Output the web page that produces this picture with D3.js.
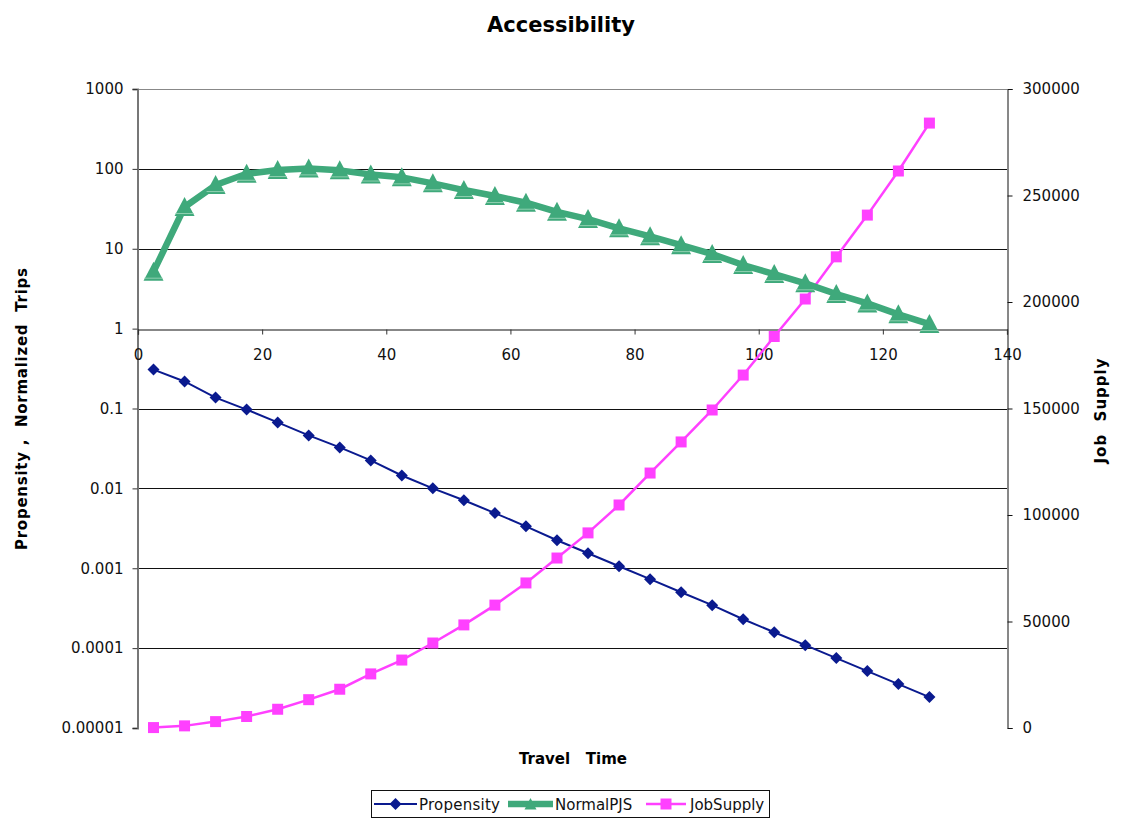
<!DOCTYPE html>
<html>
<head>
<meta charset="utf-8">
<script src="https://cdn.jsdelivr.net/npm/d3@7"></script>
<style>
  body { margin: 0; background: #fff; }
  svg { display: block; }
  text { font-family: "DejaVu Sans", sans-serif; }
</style>
</head>
<body>
<svg id="chart" width="1121" height="826"></svg>
<script>
// ---- Data ----
const travelTime = [2.5, 7.5, 12.5, 17.5, 22.5, 27.5, 32.5, 37.5, 42.5, 47.5, 52.5, 57.5, 62.5,
  67.5, 72.5, 77.5, 82.5, 87.5, 92.5, 97.5, 102.5, 107.5, 112.5, 117.5, 122.5, 127.5];
const propensity = [0.307, 0.218, 0.137, 0.097, 0.067, 0.046, 0.0326, 0.0224, 0.0145, 0.0100,
  0.0071, 0.0049, 0.00335, 0.00224, 0.00154, 0.00106, 0.00073, 0.00050, 0.000345, 0.00023,
  0.000158, 0.000109, 0.000075, 0.0000516, 0.0000355, 0.0000244];
const normalPJS = [5.16, 33.3, 62.7, 86.8, 96.6, 101.4, 95.8, 84.9, 78.3, 65.9, 54.3, 45.7, 37.7,
  29.0, 23.5, 18.0, 14.3, 11.1, 8.58, 6.25, 4.82, 3.69, 2.71, 2.07, 1.51, 1.14];
const jobSupply = [200, 1000, 3000, 5400, 8800, 13300, 18200, 25400, 31900, 39900, 48400, 57700,
  68100, 79800, 91600, 104700, 119700, 134300, 149300, 165700, 183800, 201400, 221200, 240800,
  261500, 284000];
const xTicks = [0, 20, 40, 60, 80, 100, 120, 140];
const yLeftTicks = [1000, 100, 10, 1, 0.1, 0.01, 0.001, 0.0001, 0.00001];
const yLeftLabels = ["1000", "100", "10", "1", "0.1", "0.01", "0.001", "0.0001", "0.00001"];
const yRightTicks = [0, 50000, 100000, 150000, 200000, 250000, 300000];
const seriesNames = ["Propensity", "NormalPJS", "JobSupply"];
const colors = { Propensity: "#0a1a8f", NormalPJS: "#3fa97b", JobSupply: "#ff40ff" };

// ---- Layout ----
const svg = d3.select("#chart");
const L = 138, R = 1007, T = 89, B = 728;

const x = d3.scaleLinear().domain([0, 140]).range([L, R]);
const yL = d3.scaleLog().domain([0.00001, 1000]).range([B, T]);
const yR = d3.scaleLinear().domain([0, 300000]).range([B, T]);

// Title
svg.append("text").attr("x", 561).attr("y", 32).attr("text-anchor", "middle")
  .attr("font-size", 21).attr("font-weight", "bold").text("Accessibility");

// Gridlines
const g = svg.append("g");
g.selectAll("line.grid").data(yLeftTicks.filter(d => d !== 0.00001 && d !== 1))
  .join("line").attr("class", "grid")
  .attr("x1", L).attr("x2", R)
  .attr("y1", d => Math.round(yL(d)) + 0.5).attr("y2", d => Math.round(yL(d)) + 0.5)
  .attr("stroke", d => d === 1000 ? "#888" : "#111").attr("stroke-width", 1);

// Left axis
const leftAxis = d3.axisLeft(yL).tickValues(yLeftTicks)
  .tickFormat((d, i) => yLeftLabels[i]).tickSize(5).tickPadding(9);
const la = svg.append("g").attr("transform", `translate(${L - 0.5},0)`).call(leftAxis);
la.select(".domain").attr("stroke", "#777").attr("stroke-width", 2);
la.selectAll(".tick line").attr("stroke", "#333");
la.selectAll(".tick text").attr("font-size", 15).attr("fill", "#111")
  .attr("font-family", "DejaVu Sans, sans-serif");

// Right axis
const rightAxis = d3.axisRight(yR).tickValues(yRightTicks)
  .tickFormat(d3.format("d")).tickSize(5).tickPadding(10);
const ra = svg.append("g").attr("transform", `translate(${R + 0.5},0)`).call(rightAxis);
ra.select(".domain").attr("stroke", "#111").attr("stroke-width", 1);
ra.selectAll(".tick line").attr("stroke", "#111");
ra.selectAll(".tick text").attr("font-size", 15).attr("fill", "#111")
  .attr("font-family", "DejaVu Sans, sans-serif");

// X axis at y = 1
const xAxis = d3.axisBottom(x).tickValues(xTicks).tickSize(5).tickPadding(15)
  .tickFormat(d3.format("d"));
const xa = svg.append("g").attr("transform", `translate(0,${Math.round(yL(1)) + 0.5})`).call(xAxis);
xa.select(".domain").attr("stroke", "#111").attr("stroke-width", 1.2);
xa.selectAll(".tick line").attr("stroke", "#333");
xa.selectAll(".tick text").attr("font-size", 15).attr("fill", "#111")
  .attr("font-family", "DejaVu Sans, sans-serif");

// Axis titles
svg.append("text").attr("transform", "translate(27,409) rotate(-90)")
  .attr("text-anchor", "middle").attr("font-size", 15).attr("font-weight", "bold")
  .attr("textLength", 282).attr("lengthAdjust", "spacing")
  .attr("xml:space", "preserve").text("Propensity ,  Normalized  Trips");
svg.append("text").attr("transform", "translate(1106,411) rotate(-90)")
  .attr("text-anchor", "middle").attr("font-size", 15).attr("font-weight", "bold")
  .attr("textLength", 105).attr("lengthAdjust", "spacing")
  .attr("xml:space", "preserve").text("Job  Supply");
svg.append("text").attr("x", 573).attr("y", 764)
  .attr("text-anchor", "middle").attr("font-size", 15).attr("font-weight", "bold")
  .attr("xml:space", "preserve").text("Travel   Time");

// Series
const propData = travelTime.map((t, i) => ({ t, v: propensity[i] }));
const pjsData = travelTime.map((t, i) => ({ t, v: normalPJS[i] }));
const jobData = travelTime.map((t, i) => ({ t, v: jobSupply[i] }));

const lineL = d3.line().x(d => x(d.t)).y(d => yL(d.v));
const lineR = d3.line().x(d => x(d.t)).y(d => yR(d.v));

const tri = "M0,-10 L10,9 L-10,9 Z";
const square = d3.symbol().type(d3.symbolSquare).size(121);
const diamond = d3.symbol().type(d3.symbolSquare).size(72);

// Propensity
svg.append("path").datum(propData).attr("d", lineL).attr("fill", "none")
  .attr("stroke", colors.Propensity).attr("stroke-width", 2);
svg.selectAll("path.pm").data(propData).join("path").attr("class", "pm")
  .attr("transform", d => `translate(${x(d.t)},${yL(d.v)}) rotate(45)`)
  .attr("d", diamond).attr("fill", colors.Propensity);

// JobSupply
svg.append("path").datum(jobData).attr("d", lineR).attr("fill", "none")
  .attr("stroke", colors.JobSupply).attr("stroke-width", 2.5);
svg.selectAll("path.jm").data(jobData).join("path").attr("class", "jm")
  .attr("transform", d => `translate(${x(d.t)},${yR(d.v)})`)
  .attr("d", square).attr("fill", colors.JobSupply);

// NormalPJS
svg.append("path").datum(pjsData).attr("d", lineL).attr("fill", "none")
  .attr("stroke", colors.NormalPJS).attr("stroke-width", 6.5).attr("stroke-linejoin", "round");
const tg = svg.selectAll("g.tm").data(pjsData).join("g").attr("class", "tm")
  .attr("transform", d => `translate(${x(d.t)},${yL(d.v)})`);
tg.append("path").attr("d", tri).attr("fill", colors.NormalPJS);
tg.append("line").attr("x1", -9).attr("x2", 9).attr("y1", 6.5).attr("y2", 6.5)
  .attr("stroke", "#8fd0b0").attr("stroke-width", 1);

// Legend
const lg = svg.append("g");
lg.append("rect").attr("x", 371.5).attr("y", 790.5).attr("width", 398).attr("height", 27)
  .attr("fill", "#fff").attr("stroke", "#111").attr("stroke-width", 1);
const legendItems = [
  { name: seriesNames[0], x1: 374, x2: 417, tx: 419 },
  { name: seriesNames[1], x1: 508, x2: 553, tx: 555 },
  { name: seriesNames[2], x1: 646, x2: 686, tx: 690 }
];
const ly = 804;
legendItems.forEach(it => {
  const c = colors[it.name];
  const sw = it.name === "NormalPJS" ? 6.5 : (it.name === "JobSupply" ? 2.5 : 2);
  lg.append("line").attr("x1", it.x1).attr("x2", it.x2).attr("y1", ly).attr("y2", ly)
    .attr("stroke", c).attr("stroke-width", sw);
  const cx = (it.x1 + it.x2) / 2;
  if (it.name === "Propensity") {
    lg.append("path").attr("transform", `translate(${cx},${ly}) rotate(45)`)
      .attr("d", diamond).attr("fill", c);
  } else if (it.name === "NormalPJS") {
    lg.append("path").attr("transform", `translate(${cx},${ly}) scale(0.6)`)
      .attr("d", tri).attr("fill", c);
  } else {
    lg.append("path").attr("transform", `translate(${cx},${ly})`)
      .attr("d", square).attr("fill", c);
  }
  lg.append("text").attr("x", it.tx).attr("y", ly + 5.5).attr("font-size", 15)
    .attr("fill", "#111").attr("textLength", it.name === "Propensity" ? 81 : null)
    .text(it.name);
});
</script>
</body>
</html>
